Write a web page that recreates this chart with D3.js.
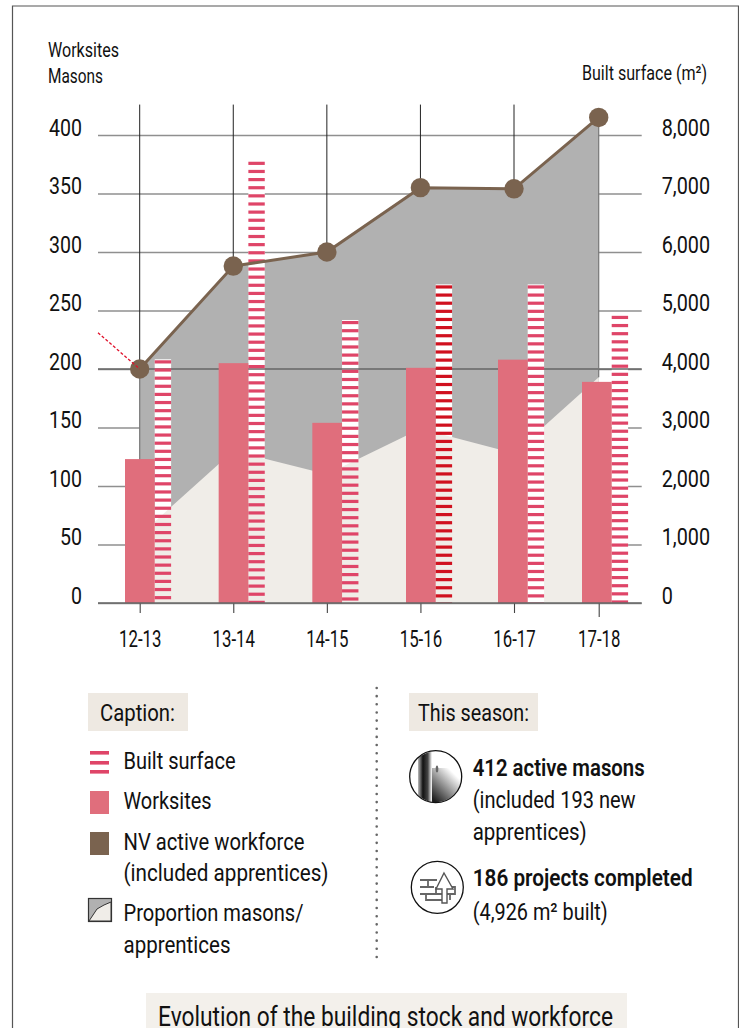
<!DOCTYPE html>
<html>
<head>
<meta charset="utf-8">
<script src="https://cdn.jsdelivr.net/npm/d3@7"></script>
<style>
  html, body { margin: 0; padding: 0; background: #fff; }
  svg { display: block; }
  text { font-family: Roboto, sans-serif; fill: #111; }
</style>
</head>
<body>
<svg width="739" height="1028"></svg>
<script>
// values
var categories = ["12-13", "13-14", "14-15", "15-16", "16-17", "17-18"];
var worksites = [123, 205, 154, 201, 208, 189];
var builtSurface = [4166, 7560, 4838, 5447, 5447, 4926];
var masons = [200, 288, 300, 355, 354, 415];
var apprentices = [58, 130, 110, 149, 128, 193];
var leftTicks = [0, 50, 100, 150, 200, 250, 300, 350, 400];
var rightTicks = [0, 1000, 2000, 3000, 4000, 5000, 6000, 7000, 8000];

var svg = d3.select("svg");

var pink = "#e06e7c", stripe = "#df4568", stripeRed = "#d0111f", brown = "#7a634f",
    grey = "#b1b1b1", cream = "#f0ede8", gridCol = "#8f8f8f";

var idx = d3.range(categories.length);

// the last season sits closer to the one before it, hence the piecewise domains
var x = d3.scaleLinear().domain([0, 4, 5]).range([139.7, 514, 598.7]);
var xBar = d3.scaleLinear().domain([0, 3, 4, 5]).range([125, 406, 498, 582]);
var y = d3.scaleLinear().domain([0, 400]).range([603, 135]);
var yS = d3.scaleLinear().domain([0, 8000]).range([603, 135]);

var axisLeftX = 98, axisRightX = 641.7;

// squeeze Roboto horizontally, the original face is a condensed one
function squeeze(sel, ratio) {
    sel.each(function() {
        d3.select(this)
            .attr("textLength", this.getComputedTextLength() * ratio)
            .attr("lengthAdjust", "spacingAndGlyphs");
    });
}

function label(txt, px, cy, width, size, weight) {
    return svg.append("text")
        .attr("x", px).attr("y", cy)
        .attr("dy", "0.32em")
        .attr("font-size", size || 24.5)
        .attr("font-weight", weight || 400)
        .attr("textLength", width)
        .attr("lengthAdjust", "spacingAndGlyphs")
        .text(txt);
}

// frame, open at the bottom
svg.append("path")
    .attr("d", "M12.5,1028V6H738.5V1028")
    .attr("fill", "none").attr("stroke", "#555").attr("stroke-width", 1.2);

// grid + left axis
var gLeft = svg.append("g")
    .attr("transform", "translate(" + axisLeftX + ",0)")
    .call(d3.axisLeft(y).tickValues(leftTicks).tickSize(-(axisRightX - axisLeftX)).tickPadding(16));
gLeft.select(".domain").remove();
gLeft.selectAll("line").attr("stroke", gridCol).attr("stroke-width", 1.4);
gLeft.selectAll("text")
    .attr("font-family", "Roboto").attr("font-size", 23).attr("dy", 0).attr("fill", "#111")
    .call(squeeze, 0.85);

// right axis, labels only
var gRight = svg.append("g")
    .attr("transform", "translate(" + axisRightX + ",0)")
    .call(d3.axisRight(yS).tickValues(rightTicks).tickFormat(d3.format(",")).tickSize(0).tickPadding(20));
gRight.select(".domain").remove();
gRight.selectAll("text")
    .attr("font-family", "Roboto").attr("font-size", 23).attr("dy", 0).attr("fill", "#111")
    .call(squeeze, 0.86);

// grey = all masons, cream = apprentices
var area = d3.area().x(function(d) { return x(d); }).y0(y(0));

svg.append("path").datum(idx)
    .attr("fill", grey)
    .attr("d", area.y1(function(d) { return y(masons[d]); }));

var workW = 29.7, barW = 16.4;

// white gaps behind the stripes; 16-17 keeps them down to the axis
svg.selectAll(".back").data(idx.filter(function(i) { return i != 4; })).enter().append("rect")
    .attr("x", function(i) { return xBar(i) + workW; })
    .attr("width", barW)
    .attr("y", function(i) { return yS(builtSurface[i]); })
    .attr("height", function(i) { return y(0) - yS(builtSurface[i]); })
    .attr("fill", "#fff");

svg.append("path").datum(idx)
    .attr("fill", cream)
    .attr("d", area.y1(function(d) { return y(apprentices[d]); }));

svg.append("rect")
    .attr("x", xBar(4) + workW).attr("width", barW)
    .attr("y", yS(builtSurface[4]))
    .attr("height", y(0) - yS(builtSurface[4]))
    .attr("fill", "#fff");

// the 200 line stays above the grey
svg.append("line")
    .attr("x1", axisLeftX).attr("x2", axisRightX)
    .attr("y1", y(200)).attr("y2", y(200))
    .attr("stroke", "#666").attr("stroke-width", 1.5);

// drop lines from the top, then the two edges of the grey area
svg.selectAll(".drop").data(idx.slice(0, 5)).enter().append("line")
    .attr("x1", function(i) { return x(i); })
    .attr("x2", function(i) { return x(i); })
    .attr("y1", y(426))
    .attr("y2", function(i) { return y(masons[i]); })
    .attr("stroke", "#222").attr("stroke-width", 1);

svg.selectAll(".edge").data([0, 5]).enter().append("line")
    .attr("x1", function(i) { return x(i); })
    .attr("x2", function(i) { return x(i); })
    .attr("y1", function(i) { return y(masons[i]); })
    .attr("y2", function(i) { return y(apprentices[i]); })
    .attr("stroke", "#777").attr("stroke-width", 1.2);

// worksites bars
svg.selectAll(".work").data(idx).enter().append("rect")
    .attr("x", function(i) { return xBar(i); })
    .attr("width", workW)
    .attr("y", function(i) { return y(worksites[i]); })
    .attr("height", function(i) { return y(0) - y(worksites[i]); })
    .attr("fill", pink);

// built surface, one stripe every 8 px or so from the top of the bar
var stripeStep = 8.13, stripeH = 3.2;
var sBars = svg.selectAll(".surf").data(idx).enter().append("g")
    .attr("fill", function(i) { return i == 3 ? stripeRed : stripe; });
sBars.selectAll("rect")
    .data(function(i) {
        return d3.range(yS(builtSurface[i]), y(0), stripeStep).map(function(v) { return { i: i, v: v }; });
    })
    .enter().append("rect")
    .attr("x", function(d) { return xBar(d.i) + workW; })
    .attr("width", barW)
    .attr("y", function(d) { return d.v + 1; })
    .attr("height", function(d) { return Math.min(stripeH, y(0) - d.v - 1); });

// x axis
var gBottom = svg.append("g")
    .attr("transform", "translate(0," + y(0) + ")")
    .call(d3.axisBottom(x).tickValues(idx).tickFormat(function(d) { return categories[d]; }).tickSize(10).tickPadding(14));
gBottom.select(".domain").remove();
gBottom.selectAll("line").attr("stroke", "#444").attr("stroke-width", 1.1);
gBottom.selectAll("line").filter(function(d) { return d == 5; }).attr("y2", 14);
gBottom.selectAll("text")
    .attr("font-family", "Roboto").attr("font-size", 24).attr("fill", "#111")
    .attr("y", 43.5).attr("dy", 0)
    .call(squeeze, 0.7);

svg.append("line")
    .attr("x1", axisLeftX).attr("x2", axisRightX)
    .attr("y1", y(0)).attr("y2", y(0))
    .attr("stroke", "#666").attr("stroke-width", 1.6);

// masons line
svg.append("path").datum(idx)
    .attr("fill", "none").attr("stroke", brown).attr("stroke-width", 3)
    .attr("d", d3.line().x(function(d) { return x(d); }).y(function(d) { return y(masons[d]); }));

svg.selectAll(".dot").data(idx).enter().append("circle")
    .attr("cx", function(i) { return x(i); })
    .attr("cy", function(i) { return y(masons[i]); })
    .attr("r", 9.7)
    .attr("fill", brown);

// red leader on the first point
svg.append("line")
    .attr("x1", axisLeftX).attr("y1", y(231))
    .attr("x2", x(0)).attr("y2", y(masons[0]))
    .attr("stroke", "#e0112b").attr("stroke-width", 1.3).attr("stroke-dasharray", "3 2");

// axis titles
label("Worksites", 48, 51, 71, 20);
label("Masons", 48, 77, 55, 20);
label("Built surface (m²)", 582, 74, 125, 20);

// caption block
svg.append("rect").attr("x", 88).attr("y", 693).attr("width", 100).attr("height", 38).attr("fill", "#eee9e2");
label("Caption:", 100, 713, 75);

var swX = 90, swW = 19;
[751, 761, 770].forEach(function(v) {
    svg.append("rect").attr("x", swX).attr("y", v).attr("width", swW).attr("height", 3.6).attr("fill", stripe);
});
svg.append("rect").attr("x", swX).attr("y", 791).attr("width", swW).attr("height", 23).attr("fill", pink);
svg.append("rect").attr("x", swX).attr("y", 832).attr("width", swW).attr("height", 23).attr("fill", brown);

svg.append("rect").attr("x", 88.5).attr("y", 898.5).attr("width", 23).attr("height", 23)
    .attr("fill", grey).attr("stroke", "#333").attr("stroke-width", 1.2);
svg.append("path").attr("d", "M89,921L97,909L104,905L111,902V921Z")
    .attr("fill", cream).attr("stroke", "#333").attr("stroke-width", 1);

label("Built surface", 123.5, 761, 112);
label("Worksites", 123.5, 801, 88);
label("NV active workforce", 123.5, 842, 181);
label("(included apprentices)", 123.5, 873, 205);
label("Proportion masons/", 123.5, 913, 180);
label("apprentices", 123.5, 945, 107);

// dotted divider
svg.append("line")
    .attr("x1", 376.7).attr("x2", 376.7).attr("y1", 688).attr("y2", 961)
    .attr("stroke", "#666").attr("stroke-width", 2.6)
    .attr("stroke-linecap", "round").attr("stroke-dasharray", "0 8.15");

// this season block
svg.append("rect").attr("x", 409).attr("y", 693).attr("width", 129).attr("height", 38).attr("fill", "#eee9e2");
label("This season:", 418, 713, 111);

var defs = svg.append("defs");
defs.append("clipPath").attr("id", "iconClip").append("circle").attr("cx", 435.7).attr("cy", 776.7).attr("r", 25.5);
var g1 = defs.append("linearGradient").attr("id", "darkBand");
g1.append("stop").attr("offset", "0").attr("stop-color", "#bbb");
g1.append("stop").attr("offset", "0.35").attr("stop-color", "#111");
g1.append("stop").attr("offset", "0.7").attr("stop-color", "#444");
g1.append("stop").attr("offset", "1").attr("stop-color", "#fff");
var g2 = defs.append("linearGradient").attr("id", "lowGrad").attr("x1", 1).attr("y1", 0).attr("x2", 0).attr("y2", 1);
g2.append("stop").attr("offset", "0.2").attr("stop-color", "#fff");
g2.append("stop").attr("offset", "0.85").attr("stop-color", "#1c1c1c");

var icon = svg.append("g").attr("clip-path", "url(#iconClip)");
icon.append("rect").attr("x", 427).attr("y", 768).attr("width", 36).attr("height", 36).attr("fill", "url(#lowGrad)");
icon.append("rect").attr("x", 418).attr("y", 750).attr("width", 14).attr("height", 54).attr("fill", "url(#darkBand)");
icon.append("ellipse").attr("cx", 437).attr("cy", 769).attr("rx", 1.3).attr("ry", 3.5).attr("fill", "#666");
svg.append("circle").attr("cx", 435.7).attr("cy", 776.7).attr("r", 26)
    .attr("fill", "none").attr("stroke", "#111").attr("stroke-width", 1.3);

svg.append("circle").attr("cx", 437.3).attr("cy", 887.3).attr("r", 26)
    .attr("fill", "none").attr("stroke", "#111").attr("stroke-width", 1.3);
svg.append("path")
    .attr("d", "M420,880H437M420,887H434M420,894H444V900H426V894M428,880V887M436,887V894M441,887H455V894H444M450,894V900")
    .attr("fill", "none").attr("stroke", "#666").attr("stroke-width", 1.8);
svg.append("path")
    .attr("d", "M444,873L453,889H447V903H442V889H436Z")
    .attr("fill", "#fff").attr("stroke", "#555").attr("stroke-width", 1.4);

label("412 active masons", 472.7, 768, 172, 24.5, 600);
label("(included 193 new", 472.7, 800, 163);
label("apprentices)", 472.7, 832, 114);
label("186 projects completed", 472.7, 878, 220, 24.5, 600);
label("(4,926 m² built)", 472.7, 912, 135);

// title, its descenders run off the page as in the original
svg.append("rect").attr("x", 146).attr("y", 993).attr("width", 481).attr("height", 35).attr("fill", "#f3f0eb");
svg.append("text")
    .attr("x", 158).attr("y", 1025.7)
    .attr("font-size", 28)
    .attr("textLength", 455).attr("lengthAdjust", "spacingAndGlyphs")
    .text("Evolution of the building stock and workforce");
</script>
</body>
</html>
